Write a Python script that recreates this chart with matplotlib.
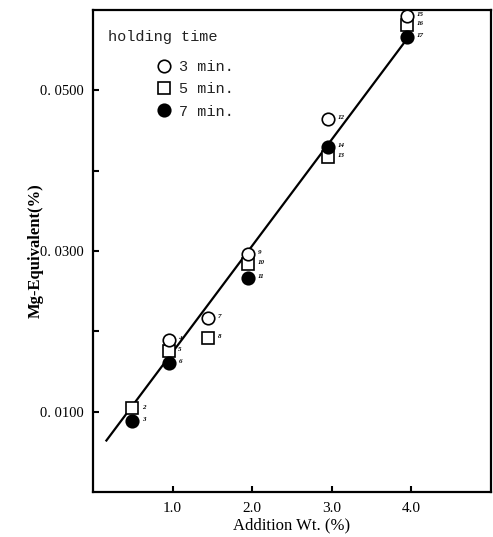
import matplotlib
matplotlib.use("Agg")
import matplotlib.pyplot as plt

# ---- data ----
circle_x = [0.95, 1.45, 1.95, 2.95, 3.95]
circle_y = [0.0189, 0.0217, 0.0296, 0.0464, 0.0593]
circle_lab = ["4", "7", "9", "12", "15"]

square_x = [0.49, 0.95, 1.45, 1.95, 2.95, 3.95]
square_y = [0.0104, 0.0176, 0.0192, 0.0284, 0.0417, 0.0581]
square_lab = ["2", "5", "8", "10", "13", "16"]

filled_x = [0.49, 0.95, 1.95, 2.95, 3.95]
filled_y = [0.0089, 0.0161, 0.0266, 0.0430, 0.0566]
filled_lab = ["3", "6", "11", "14", "17"]

fit_x = [0.16, 3.96]
fit_y = [0.0063, 0.0566]

xticks = [1.0, 2.0, 3.0, 4.0]
xtick_labels = ["1.0", "2.0", "3.0", "4.0"]
yticks = [0.01, 0.02, 0.03, 0.04, 0.05]
ytick_labels = ["0. 0100", "", "0. 0300", "", "0. 0500"]

serif = ["Liberation Serif", "DejaVu Serif"]
mono = ["Liberation Mono", "DejaVu Sans Mono"]

fig = plt.figure(figsize=(4.93, 5.37), dpi=100)
ax = fig.add_axes([93 / 493, 45 / 537, 398 / 493, 482 / 537])
ax.set_xlim(0, 5.0)
ax.set_ylim(0, 0.06)

ax.plot(fit_x, fit_y, color="black", lw=1.6, zorder=2, solid_capstyle="butt")

ms = 9.0
h_sq = ax.plot(square_x, square_y, ls="none", marker="s", ms=ms - 0.8, mfc="white",
               mec="black", mew=1.2, zorder=3, clip_on=False)[0]
h_ci = ax.plot(circle_x, circle_y, ls="none", marker="o", ms=ms, mfc="white",
               mec="black", mew=1.2, zorder=4, clip_on=False)[0]
h_fi = ax.plot(filled_x, filled_y, ls="none", marker="o", ms=ms, mfc="black",
               mec="black", mew=1.2, zorder=5, clip_on=False)[0]

for xs, ys, labs in [(circle_x, circle_y, circle_lab),
                     (square_x, square_y, square_lab),
                     (filled_x, filled_y, filled_lab)]:
    for x, y, t in zip(xs, ys, labs):
        ax.annotate(t, (x, y), xytext=(7, 1), textcoords="offset points",
                    fontsize=5, fontweight="bold", fontstyle="italic",
                    family=serif, va="center", ha="left", annotation_clip=False)

ax.set_xticks(xticks)
ax.set_xticklabels(xtick_labels, family=serif, fontsize=11)
ax.set_yticks(yticks)
ax.set_yticklabels(ytick_labels, family=serif, fontsize=10.5)
ax.tick_params(direction="in", length=4, width=1.5, pad=7)

for s in ax.spines.values():
    s.set_linewidth(1.6)

ax.set_ylabel("Mg-Equivalent(%)", family=serif, fontsize=12, fontweight="bold",
              labelpad=-3)
ax.set_xlabel("Addition Wt. (%)", family=serif, fontsize=12, labelpad=2)

ax.text(0.038, 0.944, "holding time", transform=ax.transAxes, family=mono,
        fontsize=11, color="#222222", va="center", ha="left")
ax.legend([h_ci, h_sq, h_fi], ["3 min.", "5 min.", "7 min."],
          loc="upper left", bbox_to_anchor=(0.12, 0.925), frameon=False,
          prop={"family": mono, "size": 11}, handletextpad=0.4,
          labelspacing=0.55, handlelength=1.2, labelcolor="#222222")

fig.savefig("out.png", dpi=100)
